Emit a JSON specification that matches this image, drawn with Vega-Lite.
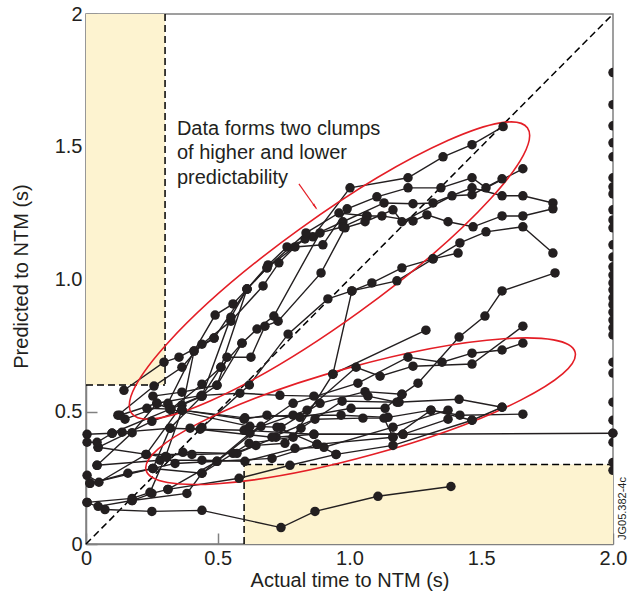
{
  "$schema": "https://vega.github.io/schema/vega-lite/v6.json",
  "autosize": {"type": "none"},
  "padding": {"left": 86, "top": 14, "right": 27, "bottom": 52},
  "width": 527,
  "height": 530,
  "background": "white",
  "config": {
    "view": {"stroke": "#808080", "strokeWidth": 1.5},
    "axis": {
      "grid": false,
      "domainColor": "#808080",
      "domainWidth": 1.5,
      "tickColor": "#808080",
      "tickWidth": 1.5,
      "tickSize": -11,
      "labelFont": "Liberation Sans",
      "labelFontSize": 20,
      "labelColor": "#231f20",
      "labelFlush": false,
      "labelOverlap": false,
      "labelBound": false,
      "titleFont": "Liberation Sans",
      "titleFontSize": 20,
      "titleFontWeight": "normal",
      "titleColor": "#231f20"
    }
  },
  "datasets": {
    "zones": [
      {"x": 0, "x2": 0.3, "y": 0.6, "y2": 2},
      {"x": 0.6, "x2": 2, "y": 0, "y2": 0.3}
    ],
    "dashes": [
      {"g": "a", "x": 0.3, "y": 2}, {"g": "a", "x": 0.3, "y": 0.6}, {"g": "a2", "x": 0, "y": 0.6}, {"g": "a2", "x": 0.3, "y": 0.6},
      {"g": "b", "x": 0.6, "y": 0}, {"g": "b", "x": 0.6, "y": 0.3}, {"g": "b2", "x": 0.6, "y": 0.3}, {"g": "b2", "x": 2, "y": 0.3},
      {"g": "c", "x": 0, "y": 0}, {"g": "c", "x": 2, "y": 2}
    ],
    "series": [
      {"s":"U1","x":0.144,"y":0.58},{"s":"U1","x":0.296,"y":0.686},{"s":"U1","x":0.353,"y":0.705},{"s":"U1","x":0.486,"y":0.777},{"s":"U1","x":0.611,"y":0.962},{"s":"U1","x":0.691,"y":1.053},{"s":"U1","x":0.763,"y":1.121},{"s":"U1","x":0.861,"y":1.159},{"s":"U1","x":1.002,"y":1.344},{"s":"U1","x":1.222,"y":1.382},{"s":"U1","x":1.355,"y":1.461},{"s":"U1","x":1.465,"y":1.507},{"s":"U1","x":1.583,"y":1.575},
      {"s":"U2","x":0.121,"y":0.486},{"s":"U2","x":0.258,"y":0.596},{"s":"U2","x":0.364,"y":0.667},{"s":"U2","x":0.44,"y":0.754},{"s":"U2","x":0.55,"y":0.841},{"s":"U2","x":0.672,"y":0.974},{"s":"U2","x":0.732,"y":1.061},{"s":"U2","x":0.793,"y":1.121},{"s":"U2","x":0.899,"y":1.129},{"s":"U2","x":0.991,"y":1.265},{"s":"U2","x":1.104,"y":1.31},{"s":"U2","x":1.222,"y":1.344},{"s":"U2","x":1.347,"y":1.344},{"s":"U2","x":1.465,"y":1.382},{"s":"U2","x":1.518,"y":1.344},{"s":"U2","x":1.658,"y":1.416},
      {"s":"U3","x":0.148,"y":0.471},{"s":"U3","x":0.311,"y":0.531},{"s":"U3","x":0.41,"y":0.728},{"s":"U3","x":0.49,"y":0.864},{"s":"U3","x":0.558,"y":0.906},{"s":"U3","x":0.687,"y":1.042},{"s":"U3","x":0.831,"y":1.151},{"s":"U3","x":0.975,"y":1.216},{"s":"U3","x":1.131,"y":1.287},{"s":"U3","x":1.241,"y":1.284},{"s":"U3","x":1.317,"y":1.287},{"s":"U3","x":1.465,"y":1.344},{"s":"U3","x":1.579,"y":1.314},{"s":"U3","x":1.658,"y":1.314},{"s":"U3","x":1.772,"y":1.287},
      {"s":"U4","x":0.231,"y":0.512},{"s":"U4","x":0.323,"y":0.509},{"s":"U4","x":0.44,"y":0.603},{"s":"U4","x":0.512,"y":0.667},{"s":"U4","x":0.592,"y":0.758},{"s":"U4","x":0.649,"y":0.811},{"s":"U4","x":0.713,"y":0.86},{"s":"U4","x":0.888,"y":1.174},{"s":"U4","x":0.975,"y":1.197},{"s":"U4","x":1.066,"y":1.238},{"s":"U4","x":1.123,"y":1.238},{"s":"U4","x":1.241,"y":1.219},{"s":"U4","x":1.294,"y":1.242},{"s":"U4","x":1.374,"y":1.216},{"s":"U4","x":1.469,"y":1.197},{"s":"U4","x":1.579,"y":1.238},{"s":"U4","x":1.658,"y":1.238},{"s":"U4","x":1.772,"y":1.265},
      {"s":"U5","x":0.254,"y":0.558},{"s":"U5","x":0.364,"y":0.573},{"s":"U5","x":0.497,"y":0.599},{"s":"U5","x":0.535,"y":0.705},{"s":"U5","x":0.626,"y":0.705},{"s":"U5","x":0.679,"y":0.822},{"s":"U5","x":0.729,"y":0.841},{"s":"U5","x":0.892,"y":1.023},{"s":"U5","x":0.983,"y":1.193},{"s":"U5","x":1.059,"y":1.216},{"s":"U5","x":1.165,"y":1.261},{"s":"U5","x":1.199,"y":1.216},{"s":"U5","x":1.389,"y":1.314},{"s":"U5","x":1.465,"y":1.318},{"s":"U5","x":1.579,"y":1.378},
      {"s":"U6","x":0.228,"y":0.338},{"s":"U6","x":0.364,"y":0.524},{"s":"U6","x":0.44,"y":0.558},{"s":"U6","x":0.55,"y":0.856},{"s":"U6","x":0.611,"y":0.962},{"s":"U6","x":0.687,"y":1.042},{"s":"U6","x":0.835,"y":1.174},{"s":"U6","x":0.96,"y":1.249},{"s":"U6","x":1.066,"y":1.238},
      {"s":"U7","x":0.44,"y":0.44},{"s":"U7","x":0.62,"y":0.6},{"s":"U7","x":0.767,"y":0.792},{"s":"U7","x":0.918,"y":0.925},{"s":"U7","x":1.009,"y":0.955},{"s":"U7","x":1.085,"y":0.985},{"s":"U7","x":1.199,"y":1.042},{"s":"U7","x":1.317,"y":1.076},{"s":"U7","x":1.419,"y":1.136},{"s":"U7","x":1.518,"y":1.178},{"s":"U7","x":1.658,"y":1.197},{"s":"U7","x":1.772,"y":1.098},
      {"s":"U8","x":0.937,"y":0.641},{"s":"U8","x":1.009,"y":0.955},{"s":"U8","x":1.18,"y":0.993},{"s":"U8","x":1.317,"y":1.076},{"s":"U8","x":1.412,"y":1.098},
      {"s":"U9","x":0.74,"y":0.44},{"s":"U9","x":0.888,"y":0.531},{"s":"U9","x":1.059,"y":0.575},{"s":"U9","x":1.199,"y":0.565},{"s":"U9","x":1.26,"y":0.607},{"s":"U9","x":1.416,"y":0.781},{"s":"U9","x":1.514,"y":0.86},{"s":"U9","x":1.579,"y":0.955},{"s":"U9","x":1.78,"y":1.023},
      {"s":"U11","x":0.004,"y":0.157},{"s":"U11","x":0.175,"y":0.172},{"s":"U11","x":0.243,"y":0.195},{"s":"U11","x":0.302,"y":0.33},{"s":"U11","x":0.364,"y":0.505},{"s":"U11","x":0.41,"y":0.728},{"s":"U11","x":0.486,"y":0.777},
      {"s":"U12","x":0.015,"y":0.229},{"s":"U12","x":0.254,"y":0.285},{"s":"U12","x":0.319,"y":0.437},{"s":"U12","x":0.44,"y":0.558},{"s":"U12","x":0.512,"y":0.667},{"s":"U12","x":0.611,"y":0.962},
      {"s":"U13","x":0.042,"y":0.297},{"s":"U13","x":0.175,"y":0.42},{"s":"U13","x":0.269,"y":0.531},{"s":"U13","x":0.319,"y":0.509},{"s":"U13","x":0.436,"y":0.558},{"s":"U13","x":0.497,"y":0.599},{"s":"U13","x":0.592,"y":0.758},
      {"s":"L1","x":0.004,"y":0.157},{"s":"L1","x":0.072,"y":0.13},{"s":"L1","x":0.25,"y":0.123},{"s":"L1","x":0.44,"y":0.127},{"s":"L1","x":0.74,"y":0.062},{"s":"L1","x":0.869,"y":0.123},{"s":"L1","x":1.108,"y":0.18},{"s":"L1","x":1.385,"y":0.217},
      {"s":"L2","x":0.046,"y":0.142},{"s":"L2","x":0.175,"y":0.164},{"s":"L2","x":0.25,"y":0.191},{"s":"L2","x":0.311,"y":0.206},{"s":"L2","x":0.581,"y":0.248},{"s":"L2","x":0.774,"y":0.297},{"s":"L2","x":0.949,"y":0.338},{"s":"L2","x":1.165,"y":0.372},{"s":"L2","x":1.465,"y":0.467},{"s":"L2","x":1.579,"y":0.516},
      {"s":"L3","x":0.015,"y":0.229},{"s":"L3","x":0.159,"y":0.267},{"s":"L3","x":0.254,"y":0.285},{"s":"L3","x":0.338,"y":0.304},{"s":"L3","x":0.497,"y":0.312},{"s":"L3","x":0.706,"y":0.323},{"s":"L3","x":0.877,"y":0.376},{"s":"L3","x":1.165,"y":0.403},{"s":"L3","x":1.309,"y":0.505},{"s":"L3","x":1.419,"y":0.486},{"s":"L3","x":1.658,"y":0.49},
      {"s":"L4","x":0.004,"y":0.259},{"s":"L4","x":0.049,"y":0.233},{"s":"L4","x":0.228,"y":0.338},{"s":"L4","x":0.402,"y":0.338},{"s":"L4","x":0.573,"y":0.342},{"s":"L4","x":0.721,"y":0.403},{"s":"L4","x":0.865,"y":0.414},{"s":"L4","x":1.203,"y":0.414},{"s":"L4","x":1.374,"y":0.471},
      {"s":"L5","x":0.004,"y":0.414},{"s":"L5","x":0.099,"y":0.418},{"s":"L5","x":0.137,"y":0.422},{"s":"L5","x":0.319,"y":0.437},{"s":"L5","x":0.433,"y":0.433},{"s":"L5","x":0.6,"y":0.429},{"s":"L5","x":0.865,"y":0.414},{"s":"L5","x":1.203,"y":0.414},{"s":"L5","x":2.0,"y":0.418},
      {"s":"L6","x":0.046,"y":0.365},{"s":"L6","x":0.25,"y":0.463},{"s":"L6","x":0.364,"y":0.505},{"s":"L6","x":0.603,"y":0.476},{"s":"L6","x":0.786,"y":0.486},{"s":"L6","x":0.968,"y":0.486},{"s":"L6","x":1.146,"y":0.478},{"s":"L6","x":1.309,"y":0.505},{"s":"L6","x":1.465,"y":0.467},
      {"s":"L7","x":0.129,"y":0.486},{"s":"L7","x":0.269,"y":0.531},{"s":"L7","x":0.44,"y":0.561},{"s":"L7","x":0.584,"y":0.569},{"s":"L7","x":0.736,"y":0.561},{"s":"L7","x":0.865,"y":0.558},{"s":"L7","x":1.07,"y":0.558},{"s":"L7","x":1.18,"y":0.535},{"s":"L7","x":1.416,"y":0.546},{"s":"L7","x":1.579,"y":0.516},
      {"s":"L8","x":0.042,"y":0.297},{"s":"L8","x":0.281,"y":0.316},{"s":"L8","x":0.44,"y":0.316},{"s":"L8","x":0.603,"y":0.312},{"s":"L8","x":0.793,"y":0.361},{"s":"L8","x":0.903,"y":0.365},{"s":"L8","x":1.165,"y":0.441},{"s":"L8","x":1.374,"y":0.505},
      {"s":"L9","x":0.046,"y":0.365},{"s":"L9","x":0.307,"y":0.327},{"s":"L9","x":0.368,"y":0.346},{"s":"L9","x":0.558,"y":0.342},{"s":"L9","x":0.645,"y":0.372},{"s":"L9","x":0.755,"y":0.38},{"s":"L9","x":0.816,"y":0.437},{"s":"L9","x":0.972,"y":0.539},{"s":"L9","x":1.188,"y":0.535},
      {"s":"L10","x":0.175,"y":0.164},{"s":"L10","x":0.383,"y":0.191},{"s":"L10","x":0.44,"y":0.267},{"s":"L10","x":0.619,"y":0.38},{"s":"L10","x":0.786,"y":0.403},{"s":"L10","x":0.937,"y":0.641},{"s":"L10","x":1.29,"y":0.807},
      {"s":"L11","x":0.254,"y":0.285},{"s":"L11","x":0.44,"y":0.267},{"s":"L11","x":0.622,"y":0.418},{"s":"L11","x":0.786,"y":0.531},{"s":"L11","x":1.032,"y":0.607},{"s":"L11","x":1.222,"y":0.705},{"s":"L11","x":1.351,"y":0.686},{"s":"L11","x":1.465,"y":0.72},{"s":"L11","x":1.579,"y":0.732},{"s":"L11","x":1.658,"y":0.758},
      {"s":"L12","x":0.311,"y":0.206},{"s":"L12","x":0.497,"y":0.312},{"s":"L12","x":0.664,"y":0.444},{"s":"L12","x":0.839,"y":0.505},{"s":"L12","x":1.025,"y":0.667},{"s":"L12","x":1.116,"y":0.633},{"s":"L12","x":1.241,"y":0.671},{"s":"L12","x":1.465,"y":0.679},{"s":"L12","x":1.658,"y":0.822},
      {"s":"L13","x":0.364,"y":0.505},{"s":"L13","x":0.6,"y":0.471},{"s":"L13","x":0.687,"y":0.486},{"s":"L13","x":0.812,"y":0.478},{"s":"L13","x":1.006,"y":0.512},{"s":"L13","x":1.135,"y":0.512},{"s":"L13","x":1.199,"y":0.565},
      {"s":"L14","x":0.395,"y":0.437},{"s":"L14","x":0.706,"y":0.403},{"s":"L14","x":0.869,"y":0.471},{"s":"L14","x":1.051,"y":0.475},{"s":"L14","x":1.131,"y":0.475},{"s":"L14","x":1.165,"y":0.403},
      {"s":"L15","x":0.099,"y":0.418},{"s":"L15","x":0.319,"y":0.509},{"s":"L15","x":0.622,"y":0.444},{"s":"L15","x":0.725,"y":0.441},{"s":"L15","x":0.877,"y":0.376},{"s":"L15","x":0.949,"y":0.338},
      {"s":"L16","x":0.004,"y":0.384},{"s":"L16","x":0.042,"y":0.384},{"s":"L16","x":0.099,"y":0.418}
    ],
    "edge": [
      {"x":2,"y":1.779},{"x":2,"y":1.658},{"x":2,"y":1.578},{"x":2,"y":1.514},{"x":2,"y":1.461},{"x":2,"y":1.382},{"x":2,"y":1.348},{"x":2,"y":1.321},{"x":2,"y":1.261},{"x":2,"y":1.223},{"x":2,"y":1.193},{"x":2,"y":1.129},{"x":2,"y":1.083},{"x":2,"y":1.046},{"x":2,"y":1.015},{"x":2,"y":0.985},{"x":2,"y":0.959},{"x":2,"y":0.929},{"x":2,"y":0.903},{"x":2,"y":0.875},{"x":2,"y":0.845},{"x":2,"y":0.816},{"x":2,"y":0.789},{"x":2,"y":0.686},{"x":2,"y":0.645},{"x":2,"y":0.535},{"x":2,"y":0.467},{"x":2,"y":0.418},{"x":2,"y":0.384},{"x":2,"y":0.308},{"x":2,"y":0.278}
    ],
    "ellA": [{"x": 0.924, "y": 1.032}],
    "ellB": [{"x": 1.042, "y": 0.501}],
    "arrow": [{"x": 0.808, "y": 1.359, "x2": 0.874, "y2": 1.266}],
    "head": [{"x": 0.868, "y": 1.275}],
    "note": [{"x": 0.345, "y": 1.544, "t": "Data forms two clumps\nof higher and lower\npredictability"}],
    "code": [{"x": 2, "y": 0, "t": "JG05.382-4c"}]
  },
  "encoding": {
    "x": {
      "field": "x", "type": "quantitative",
      "scale": {"domain": [0, 2], "nice": false, "zero": false},
      "axis": {
        "title": "Actual time to NTM (s)",
        "values": [0, 0.5, 1, 1.5, 2],
        "labelExpr": "datum.value == 0 ? '0' : format(datum.value, '.1f')",
        "labelPadding": 15,
        "titlePadding": 2
      }
    },
    "y": {
      "field": "y", "type": "quantitative",
      "scale": {"domain": [0, 2], "nice": false, "zero": false},
      "axis": {
        "title": "Predicted to NTM (s)",
        "values": [0, 0.5, 1, 1.5, 2],
        "labelExpr": "datum.value == 0 ? '0' : datum.value == 2 ? '2' : format(datum.value, '.1f')",
        "labelPadding": 15,
        "titleX": -65,
        "titleY": 262,
        "titleAngle": 270,
        "titleAlign": "center",
        "titleBaseline": "middle"
      }
    }
  },
  "layer": [
    {
      "data": {"name": "zones"},
      "mark": {"type": "rect", "color": "#fdf3d0"},
      "encoding": {"x2": {"field": "x2"}, "y2": {"field": "y2"}}
    },
    {
      "data": {"name": "dashes"},
      "mark": {"type": "line", "color": "#000000", "strokeWidth": 1.5, "strokeDash": [7, 4]},
      "encoding": {"detail": {"field": "g"}}
    },
    {
      "data": {"name": "series"},
      "mark": {"type": "line", "color": "#231f20", "strokeWidth": 1.4},
      "encoding": {"detail": {"field": "s"}}
    },
    {
      "data": {"name": "ellA"},
      "mark": {
        "type": "point", "filled": false, "color": "#e41e26", "strokeWidth": 1.6, "opacity": 1,
        "size": 238144,
        "shape": "M0.8111,-0.585C0.8786,-0.4914,0.5703,-0.1536,0.1223,0.1695C-0.3257,0.4926,-0.7436,0.6786,-0.8111,0.585C-0.8786,0.4914,-0.5703,0.1536,-0.1223,-0.1695C0.3257,-0.4926,0.7436,-0.6786,0.8111,-0.585Z"
      }
    },
    {
      "data": {"name": "ellB"},
      "mark": {
        "type": "point", "filled": false, "color": "#e41e26", "strokeWidth": 1.6, "opacity": 1,
        "size": 198025,
        "shape": "M0.9641,-0.2656C0.9938,-0.1579,0.5862,0.0482,0.0537,0.1949C-0.4788,0.3416,-0.9344,0.3733,-0.9641,0.2656C-0.9938,0.1579,-0.5862,-0.0482,-0.0537,-0.1949C0.4788,-0.3416,0.9344,-0.3733,0.9641,-0.2656Z"
      }
    },
    {
      "data": {"name": "series"},
      "mark": {"type": "point", "filled": true, "shape": "circle", "size": 90, "color": "#231f20", "opacity": 1}
    },
    {
      "data": {"name": "edge"},
      "mark": {"type": "point", "filled": true, "shape": "circle", "size": 90, "color": "#231f20", "opacity": 1, "clip": true}
    },
    {
      "data": {"name": "arrow"},
      "mark": {"type": "rule", "color": "#e41e26", "strokeWidth": 1.2},
      "encoding": {"x2": {"field": "x2"}, "y2": {"field": "y2"}}
    },
    {
      "data": {"name": "head"},
      "mark": {"type": "point", "shape": "wedge", "filled": true, "size": 70, "angle": 145, "color": "#e41e26", "opacity": 1}
    },
    {
      "data": {"name": "note"},
      "mark": {"type": "text", "align": "left", "baseline": "alphabetic", "lineBreak": "\n", "lineHeight": 24.5, "font": "Liberation Sans", "fontSize": 20, "color": "#231f20"},
      "encoding": {"text": {"field": "t"}}
    },
    {
      "data": {"name": "code"},
      "mark": {"type": "text", "align": "left", "baseline": "middle", "angle": 270, "dx": 4, "dy": 10, "font": "Liberation Sans", "fontSize": 11, "color": "#231f20"},
      "encoding": {"text": {"field": "t"}}
    }
  ]
}
